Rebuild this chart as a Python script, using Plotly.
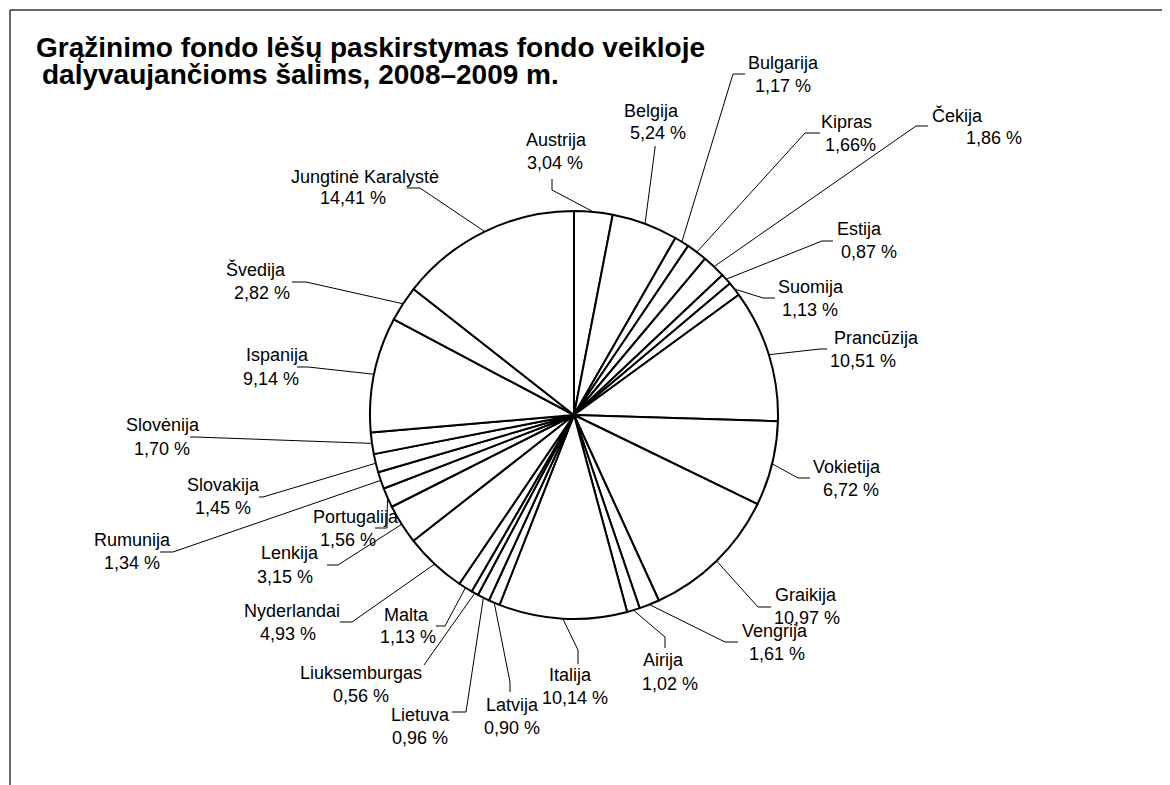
import math
import plotly.graph_objects as go

# ---------------- data ----------------
countries = [
    "Austrija", "Belgija", "Bulgarija", "Kipras", "Čekija", "Estija", "Suomija",
    "Prancūzija", "Vokietija", "Graikija", "Vengrija", "Airija", "Italija",
    "Latvija", "Lietuva", "Liuksemburgas", "Malta", "Nyderlandai", "Lenkija",
    "Portugalija", "Rumunija", "Slovakija", "Slovėnija", "Ispanija", "Švedija",
    "Jungtinė Karalystė",
]
shares = [
    3.04, 5.24, 1.17, 1.66, 1.86, 0.87, 1.13,
    10.51, 6.72, 10.97, 1.61, 1.02, 10.14,
    0.90, 0.96, 0.56, 1.13, 4.93, 3.15,
    1.56, 1.34, 1.45, 1.70, 9.14, 2.82,
    14.41,
]
share_text = [
    "3,04 %", "5,24 %", "1,17 %", "1,66%", "1,86 %", "0,87 %", "1,13 %",
    "10,51 %", "6,72 %", "10,97 %", "1,61 %", "1,02 %", "10,14 %",
    "0,90 %", "0,96 %", "0,56 %", "1,13 %", "4,93 %", "3,15 %",
    "1,56 %", "1,34 %", "1,45 %", "1,70 %", "9,14 %", "2,82 %",
    "14,41 %",
]
title_lines = [
    "Grąžinimo fondo lėšų paskirstymas fondo veikloje",
    "dalyvaujančioms šalims, 2008–2009 m.",
]

# ---------------- layout (page pixels) ----------------
OFF = 8                      # default body margin of the html page
W, H = 1170 - OFF, 785 - OFF  # figure size
CX, CY, R = 574, 415, 204
FONT = "Liberation Sans, Arial, sans-serif"
LABEL_SIZE = 18

# name_x, name_y, value_x, value_y, anchor_x, anchor_y, elbow_x, elbow_y
label_layout = [
    (556, 140, 555, 163, 552, 179, 552, 190),
    (651, 111, 658, 133, 655, 146, 655, 148),
    (784, 63, 783, 86, 745, 74, 733, 74),
    (846, 122, 850, 145, 820, 133, 805, 133),
    (957, 115, 994, 138, 928, 126, 916, 126),
    (860, 229, 869, 252, 833, 241, 822, 241),
    (811, 287, 810, 310, 775, 298, 763, 298),
    (876, 338, 863, 361, 827, 349, 820, 349),
    (847, 467, 851, 490, 810, 478, 798, 478),
    (806, 595, 807, 618, 771, 607, 758, 607),
    (775, 631, 777, 654, 738, 642, 725, 642),
    (663, 660, 670, 684, 665, 648, 665, 637),
    (570, 675, 575, 698, 578, 664, 578, 650),
    (512, 705, 512, 728, 510, 692, 510, 682),
    (420, 715, 420, 738, 452, 712, 466, 712),
    (361, 673, 361, 696, 424, 665, 424, 665),
    (406, 615, 408, 637, 436, 626, 445, 626),
    (292, 611, 288, 634, 340, 622, 352, 622),
    (290, 553, 285, 577, 327, 565, 338, 565),
    (356, 517, 348, 540, 375, 528, 387, 528),
    (132, 540, 132, 563, 160, 552, 173, 552),
    (223, 485, 223, 508, 259, 497, 263, 497),
    (163, 425, 162, 449, 190, 437, 195, 437),
    (277, 355, 271, 379, 297, 367, 308, 367),
    (256, 269, 262, 293, 292, 282, 306, 282),
    (365, 177, 353, 198, 407, 188, 420, 188),
]


def px(x):
    return (x - OFF) / W


def py(y):
    return 1 - (y - OFF) / H


fig = go.Figure(
    go.Pie(
        labels=countries,
        values=shares,
        sort=False,
        direction="clockwise",
        rotation=0,
        textinfo="none",
        hoverinfo="label+value",
        marker=dict(colors=["white"] * len(shares), line=dict(color="black", width=2)),
        domain=dict(x=[px(CX - R), px(CX + R)], y=[py(CY + R), py(CY - R)]),
        showlegend=False,
    )
)

annotations = []
shapes = []
total = sum(shares)
cum = 0.0
for name, val, txt, lay in zip(countries, shares, share_text, label_layout):
    nx, ny, vx, vy, ax, ay, bx, by = lay
    mid = (cum + val / 2) / total * 2 * math.pi
    cum += val
    ex = CX + R * math.sin(mid)
    ey = CY - R * math.cos(mid)
    annotations.append(dict(x=px(nx), y=py(ny), xref="paper", yref="paper", text=name,
                            showarrow=False, xanchor="center", yanchor="middle",
                            font=dict(family=FONT, size=LABEL_SIZE, color="black")))
    annotations.append(dict(x=px(vx), y=py(vy), xref="paper", yref="paper", text=txt,
                            showarrow=False, xanchor="center", yanchor="middle",
                            font=dict(family=FONT, size=LABEL_SIZE, color="black")))
    shapes.append(dict(type="line", xref="paper", yref="paper",
                       x0=px(ex), y0=py(ey), x1=px(bx), y1=py(by),
                       line=dict(color="black", width=1)))
    if (ax, ay) != (bx, by):
        shapes.append(dict(type="line", xref="paper", yref="paper",
                           x0=px(bx), y0=py(by), x1=px(ax), y1=py(ay),
                           line=dict(color="black", width=1)))

# title
annotations.append(dict(x=px(34), y=py(47), xref="paper", yref="paper",
                        text="<b>" + title_lines[0] + "</b>", showarrow=False,
                        xanchor="left", yanchor="middle",
                        font=dict(family=FONT, size=28, color="black")))
annotations.append(dict(x=px(40), y=py(75), xref="paper", yref="paper",
                        text="<b>" + title_lines[1] + "</b>", showarrow=False,
                        xanchor="left", yanchor="middle",
                        font=dict(family=FONT, size=28, color="black")))

# outer frame (cropped chart area border)
shapes.append(dict(type="line", xref="paper", yref="paper", x0=px(10), y0=py(10),
                   x1=px(1180), y1=py(10), line=dict(color="#333333", width=1.5)))
shapes.append(dict(type="line", xref="paper", yref="paper", x0=px(10), y0=py(10),
                   x1=px(10), y1=py(800), line=dict(color="#333333", width=1.5)))

fig.update_layout(
    width=W, height=H,
    margin=dict(l=0, r=0, t=0, b=0),
    paper_bgcolor="white", plot_bgcolor="white",
    annotations=annotations, shapes=shapes,
)

fig.write_html("out.html", config={"displayModeBar": False})
